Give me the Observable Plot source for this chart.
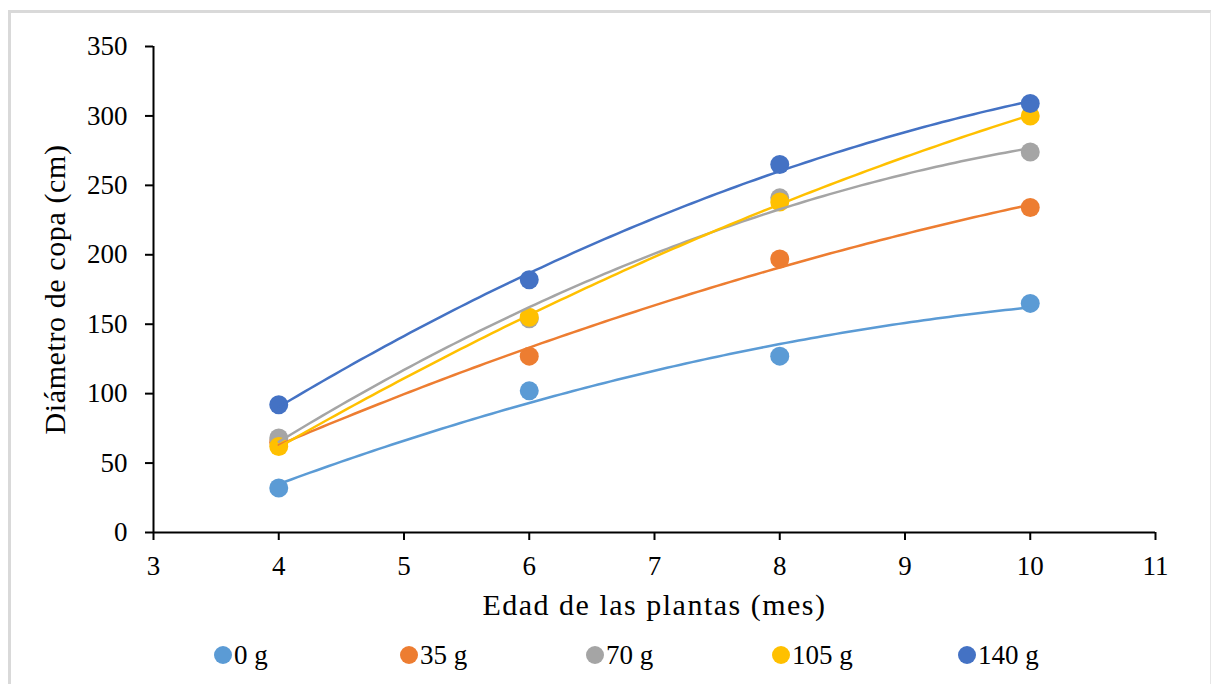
<!DOCTYPE html>
<html>
<head>
<meta charset="utf-8">
<script src="https://cdn.jsdelivr.net/npm/d3@7"></script>
<script src="https://cdn.jsdelivr.net/npm/@observablehq/plot@0.6"></script>
<style>
  html, body { margin: 0; padding: 0; background: #fff; }
  body { width: 1211px; height: 684px; position: relative; overflow: hidden; font-family: "Liberation Serif", Times, "Times New Roman", serif; }
  #frame { position: absolute; left: 8px; top: 10px; width: 1203px; height: 680px; border-left: 3px solid #d9d9d9; border-top: 3px solid #d9d9d9; border-right: 1px solid #e6e6e6; box-sizing: border-box; pointer-events: none; }
  #chart { position: absolute; left: 0; top: 0; }
  #chart svg, #chart svg text { font-family: "Liberation Serif", Times, "Times New Roman", serif !important; }
  #legend { position: absolute; left: 0; top: 640px; width: 1211px; height: 30px; }
  .item { position: absolute; top: 0; height: 30px; display: flex; align-items: center; font-size: 27px; color: #000; }
  .sw { width: 18px; height: 18px; border-radius: 50%; margin-right: 2px; }
</style>
</head>
<body>
<div id="chart"></div>
<div id="legend"></div>
<div id="frame"></div>
<script>
const months = [4, 6, 8, 10];
const seriesNames = ["0 g", "35 g", "70 g", "105 g", "140 g"];
const seriesColors = ["#5B9BD5", "#ED7D31", "#A5A5A5", "#FFC000", "#4472C4"];
const g0 = [32, 102, 127, 165];
const g35 = [65, 127, 197, 234];
const g70 = [68, 154, 241, 274];
const g105 = [62, 155, 238, 300];
const g140 = [92, 182, 265, 309];
const xTicks = [3, 4, 5, 6, 7, 8, 9, 10, 11];
const yTicks = [0, 50, 100, 150, 200, 250, 300, 350];
const xTitle = "Edad de las plantas (mes)";
const yTitle = "Diámetro de copa (cm)";

const seriesValues = [g0, g35, g70, g105, g140];
const points = [];
seriesValues.forEach((vals, i) => vals.forEach((v, j) => points.push({serie: seriesNames[i], x: months[j], y: v})));

// Polynomial (order 2) least-squares trendline, as in the original spreadsheet chart
function quadFit(xs, ys) {
  let S = [[0,0,0],[0,0,0],[0,0,0]], T = [0,0,0];
  xs.forEach((x, k) => {
    const p = [1, x, x * x];
    for (let a = 0; a < 3; a++) { T[a] += p[a] * ys[k]; for (let b = 0; b < 3; b++) S[a][b] += p[a] * p[b]; }
  });
  const M = S.map((r, a) => [...r, T[a]]);
  for (let c = 0; c < 3; c++) {
    let piv = c; for (let r = c + 1; r < 3; r++) if (Math.abs(M[r][c]) > Math.abs(M[piv][c])) piv = r;
    [M[c], M[piv]] = [M[piv], M[c]];
    for (let r = 0; r < 3; r++) if (r !== c) { const f = M[r][c] / M[c][c]; for (let k = c; k < 4; k++) M[r][k] -= f * M[c][k]; }
  }
  return [M[0][3] / M[0][0], M[1][3] / M[1][1], M[2][3] / M[2][2]];
}
const trend = [];
seriesValues.forEach((vals, i) => {
  const [a, b, c] = quadFit(months, vals);
  const x0 = d3.min(months), x1 = d3.max(months);
  for (let k = 0; k <= 120; k++) {
    const x = x0 + (x1 - x0) * k / 120;
    trend.push({serie: seriesNames[i], x, y: a + b * x + c * x * x});
  }
});

const chart = Plot.plot({
  width: 1211,
  height: 625,
  marginLeft: 153,
  marginRight: 56,
  marginTop: 46,
  marginBottom: 93,
  style: { color: "#000", background: "transparent" },
  x: { domain: [3, 11] },
  y: { domain: [0, 350] },
  color: { domain: seriesNames, range: seriesColors },
  marks: [
    Plot.axisX({ ticks: xTicks, tickSize: 8, tickPadding: 15, fontSize: 27, strokeWidth: 2, label: null, tickFormat: d => String(d) }),
    Plot.axisY({ ticks: yTicks, tickSize: 8, tickPadding: 18, fontSize: 27, strokeWidth: 2, label: null, tickFormat: d => String(d) }),
    Plot.ruleX([3], { stroke: "#000", strokeWidth: 2 }),
    Plot.ruleY([0], { stroke: "#000", strokeWidth: 2 }),
    Plot.dot(points, { x: "x", y: "y", fill: "serie", r: 9.5 }),
    Plot.line(trend, { x: "x", y: "y", z: "serie", stroke: "serie", strokeWidth: 2.5 }),
    Plot.text([xTitle], { frameAnchor: "bottom", dy: 73, fontSize: 30, fill: "#000", text: d => d, textAnchor: "middle", lineAnchor: "middle" }),
    Plot.text([yTitle], { frameAnchor: "left", dx: -98, rotate: -90, fontSize: 30, fill: "#000", text: d => d, textAnchor: "middle", lineAnchor: "middle" })
  ]
});
d3.select(chart).selectAll("text").filter(function () { return this.textContent === xTitle; }).style("letter-spacing", "1.5px");
d3.select(chart).selectAll("text").filter(function () { return this.textContent === yTitle; }).style("letter-spacing", "0.6px");
document.getElementById("chart").appendChild(chart);

const legend = document.getElementById("legend");
seriesNames.forEach((name, i) => {
  const it = document.createElement("div");
  it.className = "item";
  it.style.left = (214 + i * 186) + "px";
  const sw = document.createElement("span");
  sw.className = "sw";
  sw.style.background = seriesColors[i];
  const tx = document.createElement("span");
  tx.textContent = name;
  it.appendChild(sw); it.appendChild(tx);
  legend.appendChild(it);
});
</script>
</body>
</html>
